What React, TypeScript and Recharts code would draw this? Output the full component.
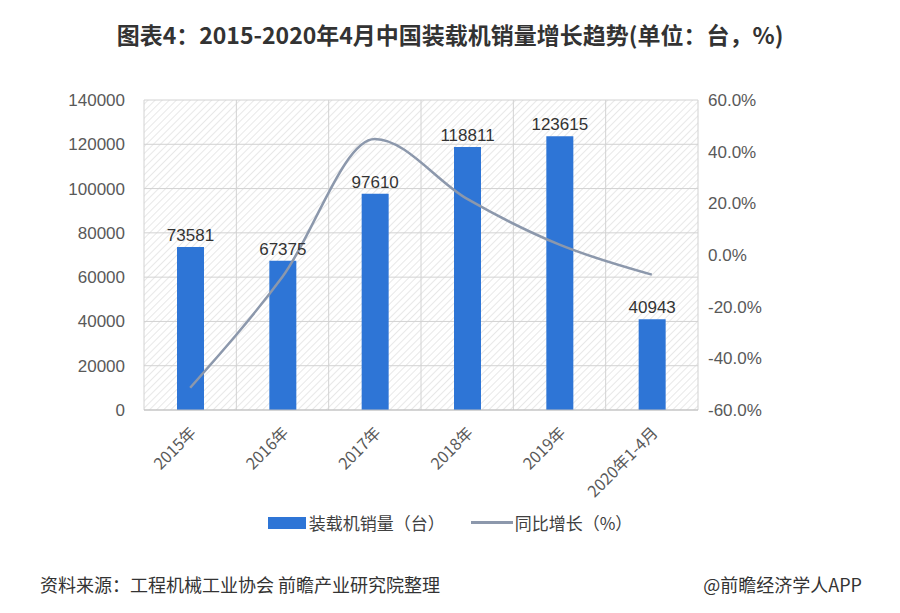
import React from 'react';
import { ComposedChart, Bar, Line, XAxis, YAxis, CartesianGrid, LabelList } from 'recharts';

const years = ['2015年', '2016年', '2017年', '2018年', '2019年', '2020年1-4月'];
const sales = [73581, 67375, 97610, 118811, 123615, 40943];
const growth = [-51.4, -8.4, 44.9, 21.7, 4.0, -7.6];
const leftTicks = [0, 20000, 40000, 60000, 80000, 100000, 120000, 140000];
const rightTicks = [-60, -40, -20, 0, 20, 40, 60];
const bandEdges = [0, 1, 2, 3, 4, 5, 6];

const data = years.map((year, i) => ({ year, sales: sales[i], growth: growth[i] }));

const BAR = '#2e75d6';
const LINE = '#8c98ac';
const numFont = '"Liberation Sans", Arial, sans-serif';
const cjkFont = '"Noto Sans CJK SC", "Liberation Sans", sans-serif';

const YearTick = (props: any) => {
    const { x, y, payload } = props;
    return (
        <g transform={`translate(${x + 7},${y + 16}) rotate(-45)`}>
            <text x={0} y={0} textAnchor="end" fill="#595959" fontSize={16} fontFamily={cjkFont}>
                {payload.value}
            </text>
        </g>
    );
};

// vertical grid lines sit on the category boundaries, not on the bar centres
const edgeLines = ({ offset }: any) =>
    bandEdges.map(i => offset.left + (i * offset.width) / years.length);

export default function App() {
    return (
        <div style={{ position: 'absolute', left: 0, top: 0, width: 900, height: 613, background: '#fff', overflow: 'hidden' }}>
            <div style={{
                position: 'absolute', top: 17, left: 0, width: 900, textAlign: 'center',
                fontFamily: cjkFont, fontWeight: 700, fontSize: 23, color: '#333'
            }}>
                图表4：2015-2020年4月中国装载机销量增长趋势(单位：台，%)
            </div>

            <div style={{ position: 'absolute', left: 0, top: 0 }}>
                <ComposedChart width={900} height={613} data={data} margin={{ top: 100, right: 0, bottom: 103, left: 0 }}>
                    <defs>
                        <pattern id="hatch" width="5" height="5" patternUnits="userSpaceOnUse" patternTransform="rotate(45)">
                            <line x1="0" y1="0" x2="0" y2="5" stroke="#d9d9d9" strokeWidth="1.2" />
                        </pattern>
                    </defs>
                    <CartesianGrid yAxisId="left" stroke="#d2d2d2" fill="url(#hatch)" verticalCoordinatesGenerator={edgeLines} />
                    <XAxis dataKey="year" height={100} axisLine={{ stroke: '#bfbfbf' }} tickLine={false} tick={<YearTick />} interval={0} />
                    <YAxis yAxisId="left" domain={[0, 140000]} ticks={leftTicks} width={144} axisLine={false} tickLine={false}
                        tickSize={0} tickMargin={19} tick={{ fill: '#595959', fontSize: 17, fontFamily: numFont }} />
                    <YAxis yAxisId="right" orientation="right" domain={[-60, 60]} ticks={rightTicks} width={202}
                        axisLine={false} tickLine={false} tickSize={0} tickMargin={10}
                        tickFormatter={(v: number) => `${v.toFixed(1)}%`}
                        tick={{ fill: '#595959', fontSize: 17, fontFamily: numFont }} />
                    <Bar yAxisId="left" dataKey="sales" fill={BAR} barSize={27} isAnimationActive={false}>
                        <LabelList dataKey="sales" position="top" offset={6} fill="#333" fontSize={17} fontFamily={numFont} />
                    </Bar>
                    <Line yAxisId="right" dataKey="growth" type="monotone" stroke={LINE} strokeWidth={2.5} dot={false}
                        activeDot={false} isAnimationActive={false} />
                </ComposedChart>
            </div>

            <div style={{
                position: 'absolute', top: 510, left: 0, width: 900, display: 'flex', justifyContent: 'center',
                alignItems: 'center', fontFamily: cjkFont, fontSize: 17, color: '#404040'
            }}>
                <span style={{ display: 'inline-block', width: 38, height: 12, background: BAR, marginRight: 3 }} />
                <span>装载机销量（台）</span>
                <span style={{ display: 'inline-block', width: 42, height: 2.5, background: LINE, marginLeft: 26, marginRight: 2 }} />
                <span>同比增长（%）</span>
            </div>

            <div style={{
                position: 'absolute', top: 571, left: 40, fontFamily: cjkFont, fontSize: 18, color: '#333'
            }}>
                资料来源：工程机械工业协会 前瞻产业研究院整理
            </div>
            <div style={{
                position: 'absolute', top: 571, right: 38, fontFamily: cjkFont, fontSize: 18, color: '#333'
            }}>
                @前瞻经济学人APP
            </div>
        </div>
    );
}
